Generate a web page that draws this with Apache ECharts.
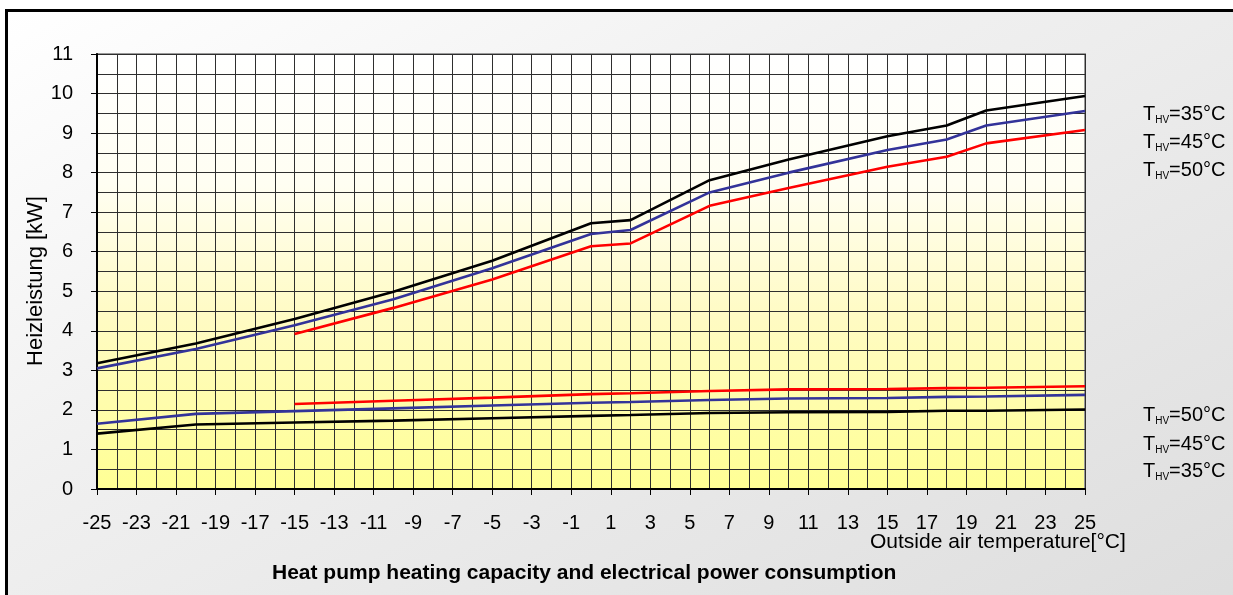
<!DOCTYPE html>
<html>
<head>
<meta charset="utf-8">
<title>Heat pump heating capacity and electrical power consumption</title>
<script src="https://cdn.jsdelivr.net/npm/echarts@6/dist/echarts.min.js"></script>
<style>
  html, body { margin: 0; padding: 0; }
  body {
    width: 1233px; height: 595px; overflow: hidden; position: relative;
    background: #ffffff;
  }
  #frame {
    position: absolute; left: 5px; top: 9px; width: 1300px; height: 700px;
    border-left: 3px solid #000; border-top: 3px solid #000;
    background: linear-gradient(to bottom right, #ffffff 0%, #f0f0f0 35%, #dadada 100%);
  }
  #chart { position: absolute; left: 0; top: 0; width: 1233px; height: 595px; }
</style>
</head>
<body>
<div id="frame"></div>
<div id="chart"></div>
<script>
// Outside air temperature break points [°C]
const temps = [-25, -20, -15, -10, -5, 0, 2, 6, 10, 15, 18, 20, 25];

// Heating capacity [kW] per flow temperature
const heat35 = [3.18, 3.68, 4.30, 4.99, 5.77, 6.72, 6.80, 7.81, 8.33, 8.92, 9.19, 9.57, 9.94];
const heat45 = [3.05, 3.54, 4.14, 4.80, 5.58, 6.45, 6.55, 7.50, 8.00, 8.57, 8.84, 9.19, 9.56];
const heat50 = [null, null, 3.92, 4.58, 5.30, 6.14, 6.21, 7.16, 7.61, 8.15, 8.40, 8.74, 9.08];

// Electrical power consumption [kW] per flow temperature
const power35 = [1.40, 1.63, 1.68, 1.73, 1.79, 1.85, 1.87, 1.92, 1.94, 1.95, 1.98, 1.98, 2.01];
const power45 = [1.65, 1.90, 1.97, 2.04, 2.11, 2.18, 2.20, 2.25, 2.29, 2.30, 2.33, 2.34, 2.38];
const power50 = [null, null, 2.15, 2.23, 2.31, 2.40, 2.42, 2.48, 2.52, 2.53, 2.55, 2.56, 2.60];

// Legend texts at the right side (top group: heating, bottom group: power)
const upperLabels = ['35', '45', '50'];
const lowerLabels = ['50', '45', '35'];

const COLORS = { t35: '#000000', t45: '#333399', t50: '#ff0000' };
const FONT = 'Liberation Sans, Arial, sans-serif';

function pairs(values) {
  const out = [];
  values.forEach((v, i) => { if (v !== null) out.push([temps[i], v]); });
  return out;
}

function lineSeries(name, values, color) {
  return {
    name: name,
    type: 'line',
    data: pairs(values),
    symbol: 'none',
    smooth: false,
    lineStyle: { color: color, width: 2.6 },
    z: 5
  };
}

function labelText(t, top) {
  return {
    type: 'text',
    left: 1143,
    top: top,
    style: {
      text: '{t|T}{s|HV}{t|=' + t + '°C}',
      rich: {
        t: { fontFamily: FONT, fontSize: 20, lineHeight: 22, fill: '#000' },
        s: { fontFamily: FONT, fontSize: 10, lineHeight: 14, verticalAlign: 'bottom', fill: '#000' }
      }
    }
  };
}

const chart = echarts.init(document.getElementById('chart'), null, { renderer: 'canvas' });

const graphics = [];
const upperTops = [104, 132, 160];
const lowerTops = [405, 434, 461];
upperLabels.forEach((t, i) => graphics.push(labelText(t, upperTops[i])));
lowerLabels.forEach((t, i) => graphics.push(labelText(t, lowerTops[i])));

// y axis title, rotated, left of the tick labels
graphics.push({
  type: 'text',
  x: 36,
  y: 281,
  rotation: Math.PI / 2,
  style: {
    text: 'Heizleistung [kW]',
    font: '22px ' + FONT,
    fill: '#000',
    align: 'center',
    verticalAlign: 'middle'
  }
});

// x axis title, placed under the right end of the axis
graphics.push({
  type: 'text',
  left: 870,
  top: 532,
  style: {
    text: 'Outside air temperature[°C]',
    font: '21px ' + FONT,
    fill: '#000'
  }
});

// chart caption
graphics.push({
  type: 'text',
  left: 272,
  top: 563,
  style: {
    text: 'Heat pump heating capacity and electrical power consumption',
    font: 'bold 21px ' + FONT,
    fill: '#000'
  }
});

chart.setOption({
  backgroundColor: 'transparent',
  animation: false,
  grid: {
    left: 97, right: 148, top: 54, bottom: 106,
    outerBoundsMode: 'none',
    containLabel: false,
    show: true,
    borderColor: '#9a9a9a',
    borderWidth: 2,
    backgroundColor: new echarts.graphic.LinearGradient(0, 0, 0, 1, [
      { offset: 0, color: '#ffffff' },
      { offset: 0.3, color: '#fffef2' },
      { offset: 0.6, color: '#fffbc4' },
      { offset: 1, color: '#ffff94' }
    ])
  },
  xAxis: {
    type: 'value',
    min: -25, max: 25, interval: 2,
    axisLine: { show: true, onZero: false, lineStyle: { color: '#000', width: 2 } },
    axisTick: { show: true, inside: false, length: 6, lineStyle: { color: '#000', width: 1 } },
    axisLabel: { fontFamily: FONT, fontSize: 20, color: '#000', margin: 24 },
    splitLine: { show: true, lineStyle: { color: '#2e2e2e', width: 1 } },
    minorTick: { show: false, splitNumber: 2 },
    minorSplitLine: { show: true, lineStyle: { color: '#2e2e2e', width: 1 } }
  },
  yAxis: {
    type: 'value',
    min: 0, max: 11, interval: 1,
    axisLine: { show: true, onZero: false, lineStyle: { color: '#000', width: 2 } },
    axisTick: { show: true, inside: false, length: 6, lineStyle: { color: '#000', width: 1 } },
    axisLabel: { fontFamily: FONT, fontSize: 20, color: '#000', margin: 24 },
    splitLine: { show: true, lineStyle: { color: '#2e2e2e', width: 1 } },
    minorTick: { show: false, splitNumber: 2 },
    minorSplitLine: { show: true, lineStyle: { color: '#2e2e2e', width: 1 } }
  },
  series: [
    lineSeries('Heizleistung 35°C', heat35, COLORS.t35),
    lineSeries('Heizleistung 45°C', heat45, COLORS.t45),
    lineSeries('Heizleistung 50°C', heat50, COLORS.t50),
    lineSeries('Leistungsaufnahme 50°C', power50, COLORS.t50),
    lineSeries('Leistungsaufnahme 45°C', power45, COLORS.t45),
    lineSeries('Leistungsaufnahme 35°C', power35, COLORS.t35)
  ],
  graphic: graphics
});
</script>
</body>
</html>
